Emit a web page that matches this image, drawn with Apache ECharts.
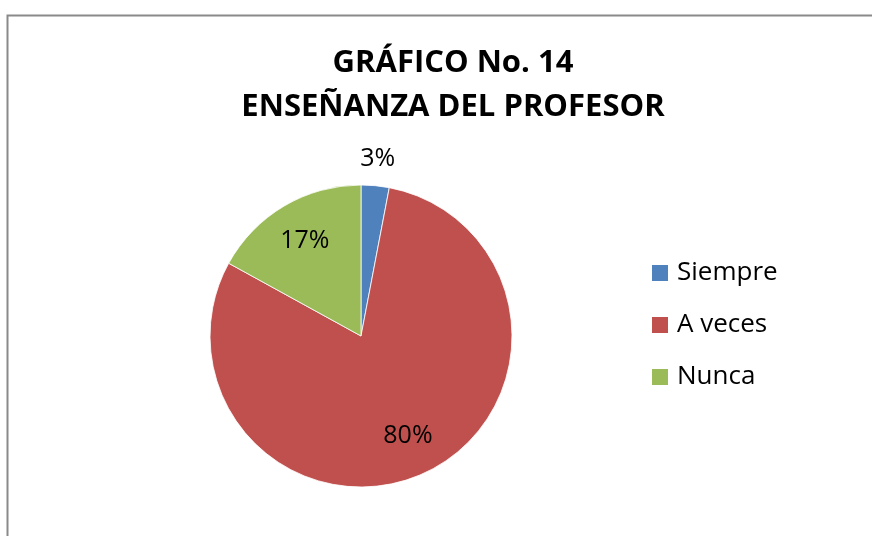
<!DOCTYPE html>
<html>
<head>
<meta charset="utf-8">
<script src="https://cdn.jsdelivr.net/npm/echarts@6/dist/echarts.min.js"></script>
<style>html,body{margin:0;padding:0;background:#fff}#c{width:872px;height:536px}</style>
</head>
<body>
<div id="c"></div>
<script>
const titleLines = ['GRÁFICO No. 14', 'ENSEÑANZA DEL PROFESOR'];
const categories = ['Siempre', 'A veces', 'Nunca'];
const values = [3, 80, 17];
const colors = ['#4F81BD', '#C0504D', '#9BBB59'];
const outsideLabelCats = ['Siempre'];

const chart = echarts.init(document.getElementById('c'));
const R = 151;
const center = [361, 336];
const mainData = categories.map((n, i) => ({ name: n, value: values[i], itemStyle: { color: colors[i] } }));
const labelStyle = { color: '#000', fontSize: 25, fontFamily: 'Open Sans' };
function labelData(showSet) {
  return categories.map((n, i) => ({
    name: n, value: values[i],
    label: { show: showSet(n) }
  }));
}
chart.setOption({
  backgroundColor: '#fff',
  animation: false,
  title: {
    text: titleLines.join('\n'),
    left: 448, textAlign: 'center', top: 36,
    textStyle: { fontFamily: 'Open Sans', fontWeight: 'bold', fontSize: 31, lineHeight: 44, color: '#000' }
  },
  legend: {
    orient: 'vertical', left: 650, top: 257, padding: 0,
    itemWidth: 18, itemHeight: 18, itemGap: 20,
    icon: 'rect',
    data: categories,
    textStyle: { fontFamily: 'Open Sans', fontSize: 26, lineHeight: 32, color: '#000', padding: [0, 0, 0, 3] }
  },
  graphic: [{
    type: 'rect', left: 5, top: 13, silent: true,
    shape: { width: 900, height: 600 },
    style: { fill: 'none', stroke: '#8a8a8a', lineWidth: 2 }
  }],
  series: [
    {
      type: 'pie', center: center, radius: [0, R], startAngle: 90, clockwise: true,
      data: mainData, label: { show: false }, labelLine: { show: false },
      itemStyle: { borderColor: '#fff', borderWidth: 0.8 },
      emphasis: { disabled: true }
    },
    {
      type: 'pie', center: center, radius: [R * 0.42, R], startAngle: 90, clockwise: true,
      silent: true, legendHoverLink: false,
      data: labelData(n => outsideLabelCats.indexOf(n) < 0),
      itemStyle: { color: 'rgba(0,0,0,0)' },
      label: Object.assign({ position: 'inside', formatter: '{d}%' }, labelStyle),
      labelLine: { show: false }, emphasis: { disabled: true }
    },
    {
      type: 'pie', center: center, radius: [R, R * 1.32], startAngle: 90, clockwise: true,
      silent: true, legendHoverLink: false,
      data: labelData(n => outsideLabelCats.indexOf(n) >= 0),
      itemStyle: { color: 'rgba(0,0,0,0)' },
      label: Object.assign({ position: 'inside', formatter: '{d}%' }, labelStyle),
      labelLine: { show: false }, emphasis: { disabled: true }
    }
  ]
});
</script>
</body>
</html>
